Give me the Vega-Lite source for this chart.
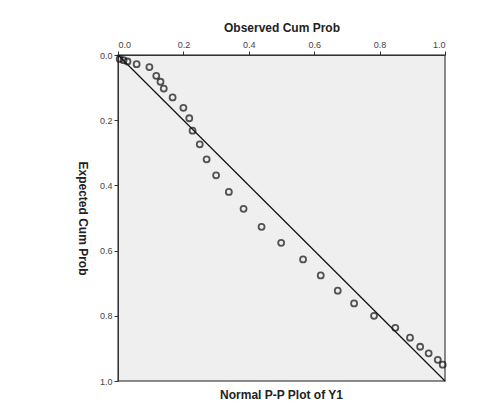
{
  "$schema": "https://vega.github.io/schema/vega-lite/v6.json",
  "autosize": {"type": "none"},
  "width": 327,
  "height": 326,
  "padding": {"left": 118, "top": 55, "right": 56, "bottom": 25},
  "background": "white",
  "title": {
    "text": "Normal P-P Plot of Y1",
    "orient": "bottom",
    "offset": 4,
    "font": "Liberation Sans",
    "fontSize": 12,
    "fontWeight": "bold",
    "color": "#222"
  },
  "config": {
    "view": {"fill": "#efefef", "stroke": "#666", "strokeWidth": 1.5},
    "axis": {
      "labelFont": "Liberation Sans",
      "titleFont": "Liberation Sans",
      "labelFontSize": 9,
      "labelColor": "#444",
      "titleFontSize": 12,
      "titleFontWeight": "bold",
      "titleColor": "#222",
      "domainColor": "#333",
      "tickColor": "#333",
      "grid": false,
      "tickSize": 4
    }
  },
  "data": {
    "values": [
      {"obs": 0.005, "exp": 0.012},
      {"obs": 0.017, "exp": 0.016},
      {"obs": 0.029, "exp": 0.02},
      {"obs": 0.057, "exp": 0.028},
      {"obs": 0.096, "exp": 0.037},
      {"obs": 0.117, "exp": 0.064},
      {"obs": 0.13, "exp": 0.082},
      {"obs": 0.14, "exp": 0.103},
      {"obs": 0.167, "exp": 0.13},
      {"obs": 0.2, "exp": 0.162},
      {"obs": 0.218, "exp": 0.194},
      {"obs": 0.228, "exp": 0.232},
      {"obs": 0.25, "exp": 0.274},
      {"obs": 0.271, "exp": 0.32},
      {"obs": 0.3, "exp": 0.369},
      {"obs": 0.339, "exp": 0.42},
      {"obs": 0.384, "exp": 0.472},
      {"obs": 0.439, "exp": 0.527},
      {"obs": 0.499, "exp": 0.576},
      {"obs": 0.566, "exp": 0.627},
      {"obs": 0.62, "exp": 0.676},
      {"obs": 0.672, "exp": 0.723},
      {"obs": 0.722, "exp": 0.762},
      {"obs": 0.783, "exp": 0.8},
      {"obs": 0.848, "exp": 0.837},
      {"obs": 0.893, "exp": 0.867},
      {"obs": 0.924, "exp": 0.895},
      {"obs": 0.95, "exp": 0.915},
      {"obs": 0.978, "exp": 0.935},
      {"obs": 0.993, "exp": 0.95}
    ]
  },
  "layer": [
    {
      "data": {"values": [{"a": 0}, {"a": 1}]},
      "mark": {"type": "line", "color": "#111", "strokeWidth": 1.2},
      "encoding": {
        "x": {"field": "a", "type": "quantitative"},
        "y": {"field": "a", "type": "quantitative"}
      }
    },
    {
      "mark": {"type": "point", "shape": "circle", "filled": false, "color": "#111", "strokeWidth": 1.8, "size": 36},
      "encoding": {
        "x": {
          "field": "obs", "type": "quantitative",
          "scale": {"domain": [0, 1], "nice": false, "zero": false},
          "axis": {"orient": "top", "title": "Observed Cum Prob", "values": [0, 0.2, 0.4, 0.6, 0.8, 1.0], "format": ".1f", "titlePadding": 6, "labelPadding": 2}
        },
        "y": {
          "field": "exp", "type": "quantitative",
          "scale": {"domain": [0, 1], "nice": false, "zero": false, "reverse": true},
          "axis": {"title": "Expected Cum Prob", "titleAngle": 90, "values": [0, 0.2, 0.4, 0.6, 0.8, 1.0], "format": ".1f", "titlePadding": 24, "labelPadding": 2}
        }
      }
    }
  ]
}
